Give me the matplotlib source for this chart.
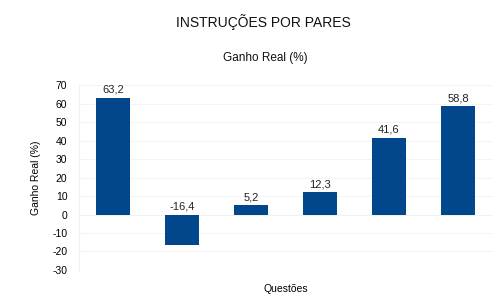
import matplotlib
matplotlib.use('Agg')
from matplotlib import pyplot as plt

plt.rcParams['font.family'] = ['Liberation Sans', 'DejaVu Sans']

questoes = ['Q1', 'Q2', 'Q3', 'Q4', 'Q5', 'Q6']
ganho = [63.2, -16.4, 5.2, 12.3, 41.6, 58.8]
rotulos = ['63,2', '-16,4', '5,2', '12,3', '41,6', '58,8']
yticks = list(range(-30, 71, 10))

fig = plt.figure(figsize=(5, 3.03), dpi=100)
ax = fig.add_axes([0.157, 0.109, 0.828, 0.610])

x = range(len(questoes))
bars = ax.bar(x, ganho, width=0.5, color='#02468C', zorder=3)

# labels sit above the bar, or just above zero for negative ones
for xi, v, lab in zip(x, ganho, rotulos):
    ax.text(xi, max(v, 0) + 1.5, lab, ha='center',
            va='bottom', fontsize=8, color='#222222')

ax.set_xlim(-0.5, len(questoes) - 0.5)
ax.set_ylim(-30, 70)
ax.set_yticks(yticks)
ax.set_yticklabels([str(t) for t in yticks], fontsize=7.5)
ax.set_xticks([])
ax.tick_params(axis='y', length=0, pad=8)
ax.grid(axis='y', color='#f2f2f2', linewidth=0.6, zorder=0)
for s in ['top', 'right', 'bottom']:
    ax.spines[s].set_visible(False)
ax.spines['left'].set_color('#f0f0f0')
ax.axhline(0, color='#eeeeee', linewidth=0.6, zorder=1)

ax.set_ylabel('Ganho Real (%)', fontsize=7.5, labelpad=8)
ax.set_xlabel('Questões', fontsize=7.5, labelpad=10)

fig.text(0.527, 0.927, 'INSTRUÇÕES POR PARES', ha='center', va='center',
         fontsize=10, color='#111111')
fig.text(0.53, 0.81, 'Ganho Real (%)', ha='center', va='center',
         fontsize=8.5, color='#111111')

fig.savefig('out.png', dpi=100)
